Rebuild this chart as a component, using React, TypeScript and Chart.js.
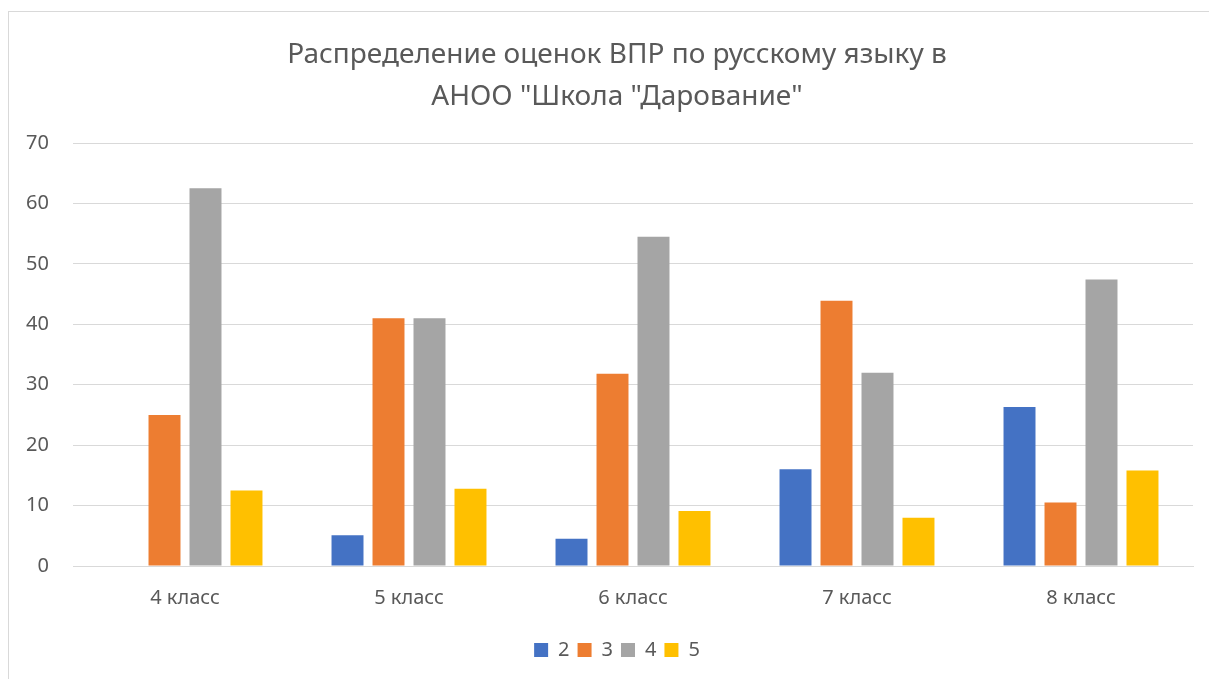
import React, { useEffect, useRef } from "react";
import { Chart, registerables } from "chart.js";

Chart.register(...registerables);

const categories = ["4 класс", "5 класс", "6 класс", "7 класс", "8 класс"];
const grade2 = [0, 5.1, 4.5, 16, 26.3];
const grade3 = [25, 41, 31.8, 43.9, 10.5];
const grade4 = [62.5, 41, 54.5, 32, 47.4];
const grade5 = [12.5, 12.8, 9.1, 8, 15.8];
const seriesNames = ["2", "3", "4", "5"];
const seriesColors = ["#4472C4", "#ED7D31", "#A5A5A5", "#FFC000"];
const titleLines = ['Распределение оценок ВПР по русскому языку в', 'АНОО "Школа "Дарование"'];

export default function App() {
  const ref = useRef<HTMLCanvasElement | null>(null);
  useEffect(() => {
    if (!ref.current) return;
    const font = "'Noto Sans', sans-serif";
    const data = [grade2, grade3, grade4, grade5];
    const chart = new Chart(ref.current, {
      type: "bar",
      data: {
        labels: categories,
        datasets: data.map((d, i) => ({
          label: seriesNames[i],
          data: d,
          backgroundColor: seriesColors[i],
          borderWidth: 0,
          barPercentage: 0.78,
          categoryPercentage: 0.732,
        })),
      },
      options: {
        animation: false,
        responsive: false,
        maintainAspectRatio: false,
        layout: { padding: { left: 16, right: 0, top: 22, bottom: 9 } },
        plugins: {
          title: {
            display: true,
            text: titleLines,
            color: "#595959",
            font: { family: font, size: 28, weight: "normal", lineHeight: 1.5 },
            padding: { top: 0, bottom: 25 },
          },
          legend: {
            position: "bottom",
            labels: {
              color: "#595959",
              font: { family: font, size: 20 },
              boxWidth: 14,
              boxHeight: 14,
              padding: 8,
            },
          },
          tooltip: { enabled: false },
        },
        scales: {
          x: {
            grid: { display: false, drawTicks: false },
            border: { display: true, color: "#D9D9D9", width: 1 },
            ticks: { color: "#595959", font: { family: font, size: 20 }, padding: 20 },
            afterFit: (s: any) => {
              s.height += 2;
            },
          },
          y: {
            min: 0,
            max: 70,
            grid: { color: "#D9D9D9", lineWidth: 1, drawTicks: false },
            border: { display: false },
            ticks: {
              stepSize: 10,
              color: "#595959",
              font: { family: font, size: 20 },
              padding: 24,
            },
            afterFit: (s: any) => {
              s.width = 48;
            },
          },
          yRight: {
            position: "right",
            min: 0,
            max: 70,
            grid: { display: false, drawTicks: false },
            border: { display: false },
            ticks: { display: false },
            afterFit: (s: any) => {
              s.width = 16;
            },
          },
        },
      },
    });
    return () => chart.destroy();
  }, []);
  return (
    <div
      style={{
        position: "absolute",
        left: 8,
        top: 11,
        width: 1201,
        height: 668,
        borderLeft: "1px solid #D9D9D9",
        borderTop: "1px solid #D9D9D9",
        background: "#fff",
      }}
    >
      <canvas ref={ref} width={1200} height={667} style={{ display: "block" }} />
    </div>
  );
}
